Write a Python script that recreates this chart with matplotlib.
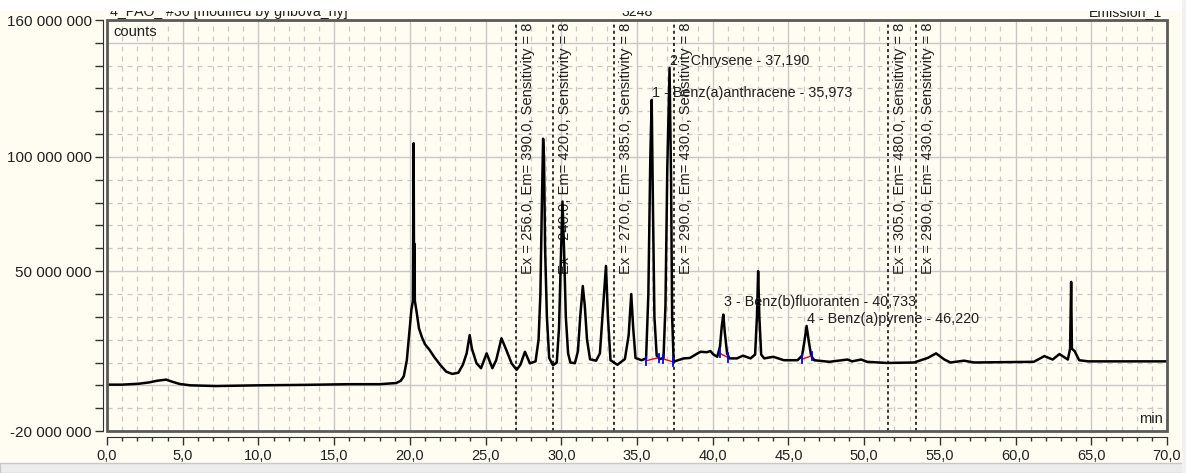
import matplotlib
matplotlib.use("Agg")
import matplotlib.pyplot as plt
from matplotlib.patches import Rectangle
from matplotlib.ticker import MultipleLocator, FixedLocator, FuncFormatter

plt.rcParams['font.family'] = ['Liberation Sans', 'DejaVu Sans']

# trace: time (min) and signal (millions of counts)
time_min = [0.0, 1.0, 2.1, 2.8, 3.3, 3.9, 4.3, 4.8, 5.5, 7.2, 10.0, 13.0, 16.0, 18.0,
            19.1, 19.4, 19.6, 19.8, 19.95, 20.1, 20.2, 20.25, 20.28, 20.3, 20.33, 20.45,
            20.6, 20.8, 21.0, 21.3, 21.6, 22.0, 22.4, 22.8, 23.2, 23.5, 23.75, 23.95,
            24.1, 24.4, 24.7, 25.07, 25.45, 25.7, 26.05, 26.4, 26.72, 27.05, 27.3, 27.6,
            27.93, 28.3, 28.5, 28.62, 28.72, 28.8, 28.86, 28.93, 29.05, 29.2, 29.45, 29.7,
            29.85, 29.97, 30.08, 30.18, 30.3, 30.45, 30.6, 30.9, 31.1, 31.25, 31.42, 31.55,
            31.7, 31.9, 32.3, 32.55, 32.75, 32.95, 33.08, 33.25, 33.7, 34.2, 34.45, 34.62,
            34.75, 34.9, 35.3, 35.6, 35.75, 35.88, 35.97, 36.05, 36.15, 36.3, 36.5, 36.75,
            36.88, 37.0, 37.15, 37.25, 37.32, 37.42, 37.7, 38.1, 38.5, 38.95, 39.2, 39.6,
            39.85, 40.05, 40.3, 40.48, 40.6, 40.7, 40.8, 40.95, 41.1, 41.6, 42.0, 42.5,
            42.8, 42.92, 43.0, 43.08, 43.2, 43.4, 44.0, 44.7, 45.6, 45.9, 46.05, 46.2,
            46.35, 46.5, 46.7, 47.7, 48.9, 49.2, 49.8, 50.2, 51.5, 53.3, 54.2, 54.75,
            55.3, 55.7, 56.6, 57.25, 61.2, 61.9, 62.45, 62.9, 63.45, 63.6, 63.67, 63.72,
            63.9, 64.2, 64.8, 70.0]
signal_m = [0.3, 0.3, 0.7, 1.3, 2.0, 2.5, 1.6, 0.6, 0.0, -0.3, 0.0, 0.2, 0.5, 0.5,
            1.0, 2.0, 4.0, 11.0, 22.0, 33.0, 37.0, 106.0, 38.0, 62.0, 37.0, 32.0,
            25.0, 21.0, 18.0, 15.5, 12.5, 9.0, 6.0, 5.0, 5.5, 9.0, 14.0, 22.0,
            16.0, 9.7, 7.5, 14.0, 7.5, 11.0, 20.6, 15.0, 9.6, 6.8, 9.0, 14.7,
            9.6, 10.5, 20.0, 40.0, 80.0, 108.0, 100.0, 60.0, 30.0, 12.0, 8.8, 10.0,
            25.0, 55.0, 80.5, 60.0, 30.0, 14.0, 10.0, 9.7, 15.0, 30.0, 43.5, 35.0,
            20.0, 11.4, 10.8, 14.0, 33.0, 52.3, 30.0, 11.0, 9.0, 11.5, 22.0, 40.0,
            25.0, 12.0, 11.0, 11.8, 40.0, 100.0, 125.0, 80.0, 30.0, 13.0, 11.5, 12.0,
            35.0, 95.0, 139.0, 90.0, 30.0, 10.3, 11.0, 11.8, 12.0, 13.8, 14.7, 14.5,
            15.0, 13.5, 12.5, 17.0, 26.0, 31.0, 23.0, 14.0, 11.8, 11.8, 13.0, 11.8,
            13.5, 30.0, 50.0, 30.0, 13.5, 11.8, 12.5, 11.0, 11.0, 13.0, 19.0, 26.0,
            19.0, 13.0, 11.0, 10.3, 11.3, 10.5, 11.3, 10.3, 9.8, 10.0, 12.0, 14.0,
            11.3, 10.0, 10.8, 10.0, 10.3, 12.8, 11.3, 13.7, 11.3, 16.0, 45.3, 16.0,
            15.0, 11.0, 10.5, 10.5]

# detector program changes
event_times = [27.0, 29.45, 33.5, 37.45, 51.55, 53.45]
event_labels = ["Ex = 256.0, Em= 390.0, Sensitivity = 8",
                "Ex = 240.0, Em= 420.0, Sensitivity = 8",
                "Ex = 270.0, Em= 385.0, Sensitivity = 8",
                "Ex = 290.0, Em= 430.0, Sensitivity = 8",
                "Ex = 305.0, Em= 480.0, Sensitivity = 8",
                "Ex = 290.0, Em= 430.0, Sensitivity = 8"]

# identified peaks
peak_labels = ["1 - Benz(a)anthracene - 35,973", "2 - Chrysene - 37,190",
               "3 - Benz(b)fluoranten - 40,733", "4 - Benz(a)pyrene - 46,220"]
peak_rt = [35.973, 37.190, 40.733, 46.220]
peak_top = [125, 139, 31, 26]

# integration baselines
base_start_t = [35.62, 36.72, 40.48, 45.92]
base_start_v = [10.8, 11.6, 14.0, 11.5]
base_end_t = [36.42, 37.40, 41.0, 46.57]
base_end_v = [12.1, 10.2, 12.2, 13.0]

ytick_vals = list(range(-20, 161, 10))
ytick_text = {160: "160 000 000", 100: "100 000 000", 50: "50 000 000", -20: "-20 000 000"}

bg = '#FFFCF2'
txt = '#202020'
W, H = 1186, 473
fig = plt.figure(figsize=(W / 100, H / 100), dpi=100)
fig.patch.set_facecolor(bg)
ax = fig.add_axes([107 / W, 1 - 431 / H, 1060 / W, 411 / H])
ax.set_facecolor(bg)

t = time_min
y = [v * 1e6 for v in signal_m]

ax.set_xlim(0, 70)
ax.set_ylim(-20e6, 160e6)

# grid: solid every 5 min / 50M, dashed every 1 min / 10M
for m in range(1, 70):
    if m % 5 == 0:
        ax.axvline(m, color='#C8C8C8', lw=1.0, zorder=0)
    else:
        ax.axvline(m, color='#C8C8C8', lw=0.9, ls=(0, (4, 4)), zorder=0)
for v in ytick_vals[1:-1]:
    if v % 50 == 0:
        ax.axhline(v * 1e6, color='#C8C8C8', lw=1.0, zorder=0)
    else:
        ax.axhline(v * 1e6, color='#C8C8C8', lw=0.9, ls=(0, (4, 4)), zorder=0)

for et, lab in zip(event_times, event_labels):
    ax.axvline(et, color='black', lw=1.1, ls=(0, (2, 2)), zorder=1)
    ax.annotate(lab, xy=(et, 1), xycoords=('data', 'axes fraction'),
                xytext=(5, -3), textcoords='offset pixels', rotation=90,
                ha='left', va='top', fontsize=10.6, color=txt, zorder=2)

ax.plot(t, y, color='black', lw=1.8, zorder=3)

for i in range(len(base_start_t)):
    ax.plot([base_start_t[i], base_end_t[i]], [base_start_v[i] * 1e6, base_end_v[i] * 1e6],
            color='red', lw=1.0, zorder=4)
    for tt, vv in ((base_start_t[i], base_start_v[i]), (base_end_t[i], base_end_v[i])):
        ax.plot([tt, tt], [(vv - 1.8) * 1e6, (vv + 1.8) * 1e6], color='blue', lw=1.3, zorder=4)

# the third label sits a little higher so it clears the fourth
for i, (lab, rt, top) in enumerate(zip(peak_labels, peak_rt, peak_top)):
    dy = 6 if i == 2 else 0
    ax.annotate(lab, xy=(rt, top * 1e6), xytext=(0, dy), textcoords='offset pixels',
                ha='left', va='bottom', fontsize=10.4, color=txt, zorder=5)

ax.annotate('counts', xy=(0, 1), xycoords='axes fraction', xytext=(6, -5),
            textcoords='offset pixels', ha='left', va='top', fontsize=10.6, color=txt)
ax.annotate('min', xy=(1, 0), xycoords='axes fraction', xytext=(-4, 5),
            textcoords='offset pixels', ha='right', va='bottom', fontsize=10.6, color=txt)

# axes: offset axis lines plus a dark frame round the plot area
for s in ('top', 'right'):
    ax.spines[s].set_visible(False)
ax.spines['left'].set_position(('outward', 3))
ax.spines['bottom'].set_position(('outward', 4.5))
ax.spines['left'].set_color('#303030')
ax.spines['bottom'].set_color('#303030')
ax.add_patch(Rectangle((0, 0), 1, 1, transform=ax.transAxes, fill=False,
                       ec='#5A5A5A', lw=2.0, clip_on=False, zorder=6))

ax.yaxis.set_major_locator(FixedLocator([v * 1e6 for v in ytick_vals]))
ax.yaxis.set_major_formatter(FuncFormatter(lambda v, p: ytick_text.get(int(round(v / 1e6)), '')))
ax.xaxis.set_major_locator(MultipleLocator(5))
ax.xaxis.set_minor_locator(MultipleLocator(1))
ax.xaxis.set_major_formatter(FuncFormatter(lambda v, p: f"{v:.1f}".replace('.', ',')))
ax.tick_params(axis='y', length=6, width=1, color='#303030', pad=2, labelsize=11, labelcolor=txt)
ax.tick_params(axis='x', which='major', length=5.5, width=1, color='#303030', pad=3, labelsize=10.5, labelcolor=txt)
ax.tick_params(axis='x', which='minor', length=3, width=1, color='#303030')

# header line, cut off by the top of the window
fig.text(110 / W, 1 - 16 / H, "4_PAO_ #36 [modified by gnbova_ny]", fontsize=10.2, color=txt, va='baseline')
fig.text(637 / W, 1 - 16 / H, "3248", fontsize=10.2, color=txt, va='baseline', ha='center')
fig.text(1162 / W, 1 - 16 / H, "Emission_1", fontsize=10.2, color=txt, va='baseline', ha='right')
fig.add_artist(Rectangle((0, 1 - 11 / H), 1, 11 / H, transform=fig.transFigure,
                         fc='white', ec='none', zorder=10))
fig.add_artist(Rectangle((0, 0), 1, 10 / H, transform=fig.transFigure,
                         fc='#ECECEC', ec='#C8C8C8', lw=1, zorder=10))
fig.add_artist(Rectangle((1182 / W, 0), 4 / W, 1, transform=fig.transFigure,
                         fc='#F2F2F2', ec='none', zorder=10))

fig.savefig('out.png', dpi=100, facecolor=fig.get_facecolor())
